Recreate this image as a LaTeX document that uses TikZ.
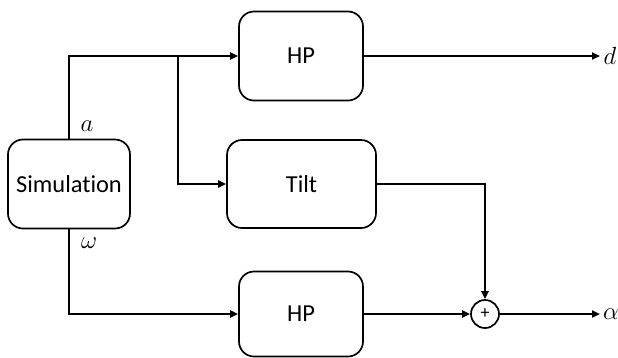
\documentclass[tikz,border=0pt]{standalone}
\usepackage{fontspec}
\setmainfont{Carlito}[Ligatures=NoCommon]
\usetikzlibrary{arrows.meta}
\begin{document}
\begin{tikzpicture}[x=1bp,y=-1bp,
  blk/.style={draw,line width=1.7bp,rounded corners=15bp,inner sep=0pt,font=\fontsize{24.5}{28}\selectfont},
  conn/.style={line width=2.2bp},
  arr/.style={conn,-{Triangle[length=8bp,width=7bp]}},
  lbl/.style={font=\fontsize{24}{28}\selectfont,inner sep=0pt}]
\useasboundingbox (0,0) rectangle (618,357);
\node[blk,minimum width=122bp,minimum height=89bp] (sim) at (69,184) {Simulation};
\node[blk,minimum width=124bp,minimum height=89bp] (hp1) at (301,56) {HP};
\node[blk,minimum width=149bp,minimum height=88bp] (tilt) at (301.5,184) {Tilt};
\node[blk,minimum width=124bp,minimum height=85bp] (hp2) at (301,314) {HP};
\node[draw,circle,line width=1.7bp,minimum size=28bp,inner sep=0pt,font=\fontsize{18}{20}\selectfont] (sum) at (485,314) {+};
\coordinate (tl) at (69,56);
\coordinate (bl) at (69,314);
\coordinate (br) at (178,56);
\coordinate (bt) at (178,184);
\coordinate (tc) at (485,184);
\coordinate (dout) at (600,56);
\coordinate (aout) at (600,314);
\draw[arr] (sim.north) -- (tl) -- (hp1.west);
\draw[arr] (br) -- (bt) -- (tilt.west);
\draw[arr] (sim.south) -- (bl) -- (hp2.west);
\draw[arr] (hp1.east) -- (dout);
\draw[arr] (hp2.east) -- (sum.west);
\draw[arr] (tilt.east) -- (tc) -- (sum.north);
\draw[arr] (sum.east) -- (aout);
\node[lbl] (la) at (87,126) {$a$};
\node[lbl] (lw) at (89,243) {$\omega$};
\node[lbl] (ld) at (610,56) {$d$};
\node[lbl] (lal) at (611,314) {$\alpha$};
\end{tikzpicture}
\end{document}
